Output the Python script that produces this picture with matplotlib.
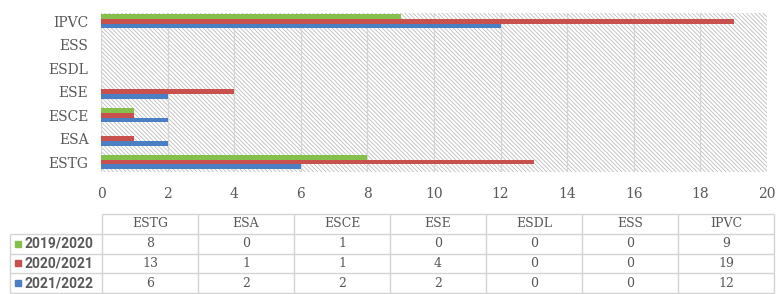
import matplotlib
matplotlib.use('Agg')
import matplotlib.pyplot as plt
from matplotlib.patches import Rectangle

# ---------------- data ----------------
schools = ['ESTG', 'ESA', 'ESCE', 'ESE', 'ESDL', 'ESS', 'IPVC']
years = ['2019/2020', '2020/2021', '2021/2022']
v1920 = [8, 0, 1, 0, 0, 0, 9]
v2021 = [13, 1, 1, 4, 0, 0, 19]
v2122 = [6, 2, 2, 2, 0, 0, 12]
series = [v1920, v2021, v2122]
colors = ['#86c04c', '#c8504d', '#4a7fc4']
xticks = list(range(0, 21, 2))

txt = '#595959'
grid = '#d4d4d4'
plt.rcParams['hatch.linewidth'] = 0.6

W, H = 776, 294
fig = plt.figure(figsize=(W / 100, H / 100), dpi=100)

# ---------------- bar chart ----------------
ax = fig.add_axes([101 / W, 1 - 172 / H, 666 / W, 159 / H])
ax.add_patch(Rectangle((0, 0), 1, 1, transform=ax.transAxes, facecolor='white',
                       edgecolor='#bdbdbd', linewidth=0, hatch='\\' * 8, zorder=0))

bh = 0.2
offs = [bh, 0, -bh]
for vals, c, o in zip(series, colors, offs):
    ax.barh([i + o for i in range(len(schools))], vals, height=bh, color=c, zorder=3)

ax.set_xlim(0, 20)
ax.set_ylim(-0.42, 6.35)
ax.set_xticks(xticks)
ax.set_yticks(range(len(schools)))
ax.set_yticklabels(schools)
for xt in xticks:
    ax.axvline(xt, color=grid, linewidth=0.9, zorder=1)
for s in ax.spines.values():
    s.set_visible(False)
ax.tick_params(length=0, colors=txt, labelsize=10)
ax.tick_params(axis='y', pad=9)
ax.tick_params(axis='x', pad=11)
for lab in ax.get_xticklabels() + ax.get_yticklabels():
    lab.set_family('DejaVu Serif')

# ---------------- data table ----------------
tb = fig.add_axes([10 / W, 1 - 293 / H, 764 / W, 79 / H])
lc = -0.958
tb.set_xlim(lc, len(schools))
tb.set_ylim(len(years) + 1, 0)
tb.axis('off')

tb.hlines(0, 0, len(schools), color=grid, linewidth=1, clip_on=False)
for r in range(1, len(years) + 2):
    tb.hlines(r, lc, len(schools), color=grid, linewidth=1, clip_on=False)
tb.vlines(lc, 1, len(years) + 1, color=grid, linewidth=1, clip_on=False)
for cidx in range(len(schools) + 1):
    tb.vlines(cidx, 0, len(years) + 1, color=grid, linewidth=1, clip_on=False)

for j, s in enumerate(schools):
    tb.text(j + 0.5, 0.5, s, ha='center', va='center', fontsize=9,
            family='DejaVu Serif', color=txt)
for i, (yr, vals, c) in enumerate(zip(years, series, colors)):
    tb.plot([lc + 0.085], [i + 1.5], marker='s', markersize=5, color=c, clip_on=False)
    tb.text(lc + 0.15, i + 1.5, yr, ha='left', va='center', fontsize=10,
            family='Roboto', weight='bold', color=txt)
    for j, v in enumerate(vals):
        tb.text(j + 0.5, i + 1.5, str(v), ha='center', va='center', fontsize=9,
                family='DejaVu Serif', color=txt)

fig.savefig('out.png', dpi=100)
